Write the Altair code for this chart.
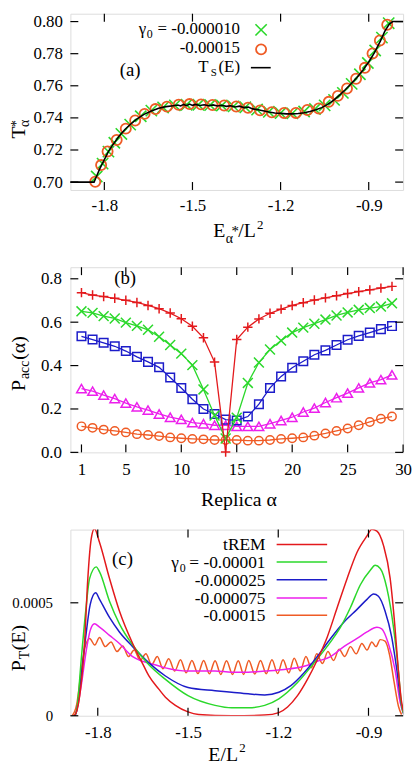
import altair as alt
import pandas as pd

FONT = "Liberation Serif, Times New Roman, serif"
RED, GREEN, BLUE, MAGENTA, ORANGE = "#e3191c", "#2bd82b", "#1c1cc9", "#ec1fec", "#ef5b25"
XPATH = "M-1,-1L1,1M-1,1L1,-1"
PLUSPATH = "M-1,0L1,0M0,-1L0,1"

W = 336
HA, HB, HC = 178, 187, 188
TL = 8

# ---------------- panel (a) data ----------------
a_xticks = [-1.8, -1.5, -1.2, -0.9]
a_yticks = [0.70, 0.72, 0.74, 0.76, 0.78, 0.80]
a_circ_E = [-1.831, -1.811, -1.789, -1.758, -1.727, -1.695, -1.663, -1.626, -1.587, -1.547,
            -1.510, -1.471, -1.432, -1.392, -1.351, -1.311, -1.270, -1.230, -1.188, -1.148,
            -1.109, -1.070, -1.036, -1.005, -0.974, -0.943, -0.913, -0.887, -0.862, -0.837]
a_circ_T = [0.7002, 0.7106, 0.7191, 0.7262, 0.7333, 0.7384, 0.7425, 0.7455, 0.7470, 0.7482,
            0.7486, 0.7484, 0.7480, 0.7477, 0.7471, 0.7463, 0.7447, 0.7435, 0.7431, 0.7431,
            0.7449, 0.7459, 0.7500, 0.7537, 0.7583, 0.7644, 0.7712, 0.7801, 0.7882, 0.7980]
a_x_E = [-1.826, -1.806, -1.786, -1.766, -1.742, -1.712, -1.676, -1.640, -1.600, -1.560,
         -1.520, -1.480, -1.440, -1.400, -1.360, -1.320, -1.280, -1.240, -1.200, -1.160,
         -1.120, -1.083, -1.050, -1.018, -0.988, -0.958, -0.930, -0.903, -0.878, -0.855, -0.832]
a_x_T = [0.7035, 0.7115, 0.7190, 0.7245, 0.7300, 0.7358, 0.7410, 0.7445, 0.7465, 0.7478,
         0.7482, 0.7482, 0.7480, 0.7477, 0.7472, 0.7466, 0.7452, 0.7438, 0.7430, 0.7428,
         0.7440, 0.7455, 0.7478, 0.7512, 0.7556, 0.7612, 0.7672, 0.7742, 0.7820, 0.7900, 0.7990]
a_line_E = [-1.920, -1.835, -1.828, -1.815, -1.800, -1.785, -1.770, -1.750, -1.730, -1.710,
            -1.690, -1.665, -1.640, -1.615, -1.590, -1.565, -1.550, -1.540, -1.530, -1.520,
            -1.510, -1.500, -1.490, -1.475, -1.460, -1.445, -1.430, -1.415, -1.400, -1.385,
            -1.370, -1.355, -1.340, -1.325, -1.310, -1.295, -1.280, -1.260, -1.240, -1.220,
            -1.200, -1.180, -1.160, -1.140, -1.120, -1.100, -1.080, -1.060, -1.040, -1.020,
            -1.000, -0.980, -0.960, -0.940, -0.920, -0.900, -0.880, -0.860, -0.845, -0.830,
            -0.818, -0.810, -0.783]
a_line_T = [0.7000, 0.7000, 0.7030, 0.7085, 0.7140, 0.7195, 0.7235, 0.7285, 0.7328, 0.7362,
            0.7392, 0.7422, 0.7443, 0.7460, 0.7470, 0.7476, 0.7480, 0.7474, 0.7484, 0.7476,
            0.7486, 0.7478, 0.7484, 0.7477, 0.7482, 0.7476, 0.7481, 0.7474, 0.7479, 0.7472,
            0.7476, 0.7468, 0.7473, 0.7464, 0.7467, 0.7456, 0.7452, 0.7445, 0.7437, 0.7431,
            0.7428, 0.7425, 0.7425, 0.7427, 0.7432, 0.7440, 0.7450, 0.7464, 0.7484, 0.7509,
            0.7540, 0.7575, 0.7613, 0.7652, 0.7697, 0.7748, 0.7808, 0.7880, 0.7940, 0.7985,
            0.8000, 0.8000, 0.8000]

# ---------------- panel (b) data ----------------
b_xticks = [1, 5, 10, 15, 20, 25, 30]
b_yticks = [0.0, 0.2, 0.4, 0.6, 0.8]
replica = list(range(1, 30))
b_red = [0.736, 0.725, 0.718, 0.710, 0.701, 0.691, 0.677, 0.662, 0.642, 0.616, 0.581, 0.528, 0.416, 0.002,
         0.520, 0.577, 0.615, 0.641, 0.660, 0.677, 0.690, 0.702, 0.712, 0.722, 0.732, 0.741, 0.749, 0.757, 0.765]
b_green = [0.650, 0.643, 0.628, 0.617, 0.598, 0.583, 0.565, 0.533, 0.495, 0.455, 0.402, 0.290, 0.170, 0.064,
           0.160, 0.320, 0.414, 0.474, 0.515, 0.552, 0.575, 0.593, 0.612, 0.631, 0.645, 0.657, 0.665, 0.672, 0.687]
b_blue = [0.535, 0.520, 0.505, 0.489, 0.467, 0.440, 0.417, 0.392, 0.345, 0.297, 0.245, 0.200, 0.177, 0.151,
          0.147, 0.165, 0.222, 0.297, 0.350, 0.390, 0.420, 0.450, 0.470, 0.495, 0.519, 0.537, 0.552, 0.568, 0.582]
b_magenta = [0.294, 0.282, 0.264, 0.248, 0.227, 0.210, 0.195, 0.177, 0.162, 0.152, 0.137, 0.132, 0.125, 0.125,
             0.120, 0.120, 0.120, 0.132, 0.147, 0.162, 0.186, 0.204, 0.230, 0.252, 0.273, 0.297, 0.320, 0.335, 0.357]
b_orange = [0.120, 0.113, 0.105, 0.099, 0.092, 0.084, 0.080, 0.075, 0.069, 0.065, 0.062, 0.060, 0.057, 0.057,
            0.057, 0.054, 0.054, 0.057, 0.062, 0.065, 0.069, 0.077, 0.087, 0.099, 0.110, 0.125, 0.140, 0.155, 0.165]

# ---------------- panel (c) data (P in units of 1e-4) ----------------
c_xticks = [-1.8, -1.5, -1.2, -0.9]
c_yticks = [0, 5]
c_red_E = [-1.880, -1.876, -1.860, -1.844, -1.833, -1.822, -1.811, -1.794, -1.761, -1.728, -1.684, -1.651,
           -1.630, -1.597, -1.575, -1.542, -1.500, -1.465, -1.355, -1.245, -1.198, -1.169, -1.136, -1.103,
           -1.070, -1.037, -1.004, -0.971, -0.938, -0.905, -0.889, -0.872, -0.850, -0.828, -0.812, -0.801,
           -0.790, -0.782]
c_red_P = [0.0, 0.03, 0.89, 3.20, 6.08, 7.81, 8.28, 7.67, 6.08, 4.64, 3.20, 2.31,
           1.76, 1.18, 0.82, 0.46, 0.17, 0.06, 0.0, 0.03, 0.14, 0.39, 0.89, 1.61,
           2.48, 3.49, 4.79, 6.08, 7.24, 7.96, 8.25, 8.17, 7.53, 6.08, 3.92, 2.05,
           0.61, 0.10]
c_green_E = [-1.876, -1.869, -1.855, -1.840, -1.827, -1.805, -1.794, -1.761, -1.728, -1.684, -1.630, -1.575,
             -1.500, -1.410, -1.355, -1.300, -1.245, -1.198, -1.136, -1.081, -1.026, -0.993, -0.960, -0.927,
             -0.894, -0.878, -0.861, -0.839, -0.817, -0.801, -0.790, -0.782]
c_green_P = [0.0, 0.32, 2.48, 4.64, 6.08, 6.59, 6.37, 5.07, 4.07, 3.13, 2.26, 1.61,
             0.89, 0.46, 0.35, 0.35, 0.46, 0.75, 1.47, 2.34, 3.27, 3.92, 4.79, 5.80,
             6.44, 6.66, 6.52, 5.65, 3.92, 2.05, 0.46, 0.05]
c_blue_E = [-1.876, -1.871, -1.855, -1.840, -1.825, -1.807, -1.794, -1.761, -1.728, -1.684, -1.630, -1.575,
            -1.500, -1.410, -1.355, -1.300, -1.245, -1.198, -1.158, -1.114, -1.070, -1.026, -0.982, -0.938,
            -0.905, -0.883, -0.867, -0.845, -0.823, -0.806, -0.790, -0.782]
c_blue_P = [0.0, 0.17, 1.76, 3.49, 4.93, 5.44, 5.15, 4.35, 3.71, 3.06, 2.34, 1.76,
            1.25, 1.11, 1.04, 0.97, 0.92, 1.04, 1.33, 1.90, 2.62, 3.42, 4.14, 4.71,
            5.15, 5.39, 5.29, 4.64, 3.49, 2.05, 0.46, 0.05]
c_mag_E = [-1.876, -1.871, -1.855, -1.838, -1.825, -1.811, -1.794, -1.761, -1.728, -1.684, -1.651, -1.610,
           -1.575, -1.500, -1.410, -1.355, -1.300, -1.245, -1.180, -1.114, -1.070, -1.026, -0.982, -0.938,
           -0.905, -0.872, -0.856, -0.834, -0.812, -0.795, -0.784]
c_mag_P = [0.0, 0.17, 1.33, 2.91, 3.78, 4.07, 3.92, 3.56, 3.20, 2.62, 2.41, 2.26,
           2.12, 1.98, 1.98, 1.93, 1.93, 1.98, 2.05, 2.19, 2.41, 2.62, 3.06, 3.42,
           3.71, 3.92, 3.85, 3.20, 2.05, 0.61, 0.10]
c_or_E = [-1.885, -1.870, -1.855, -1.843, -1.827, -1.810, -1.794, -1.775, -1.756, -1.736,
          -1.717, -1.698, -1.679, -1.659, -1.640, -1.621, -1.602, -1.583, -1.564, -1.544,
          -1.525, -1.506, -1.487, -1.467, -1.448, -1.429, -1.410, -1.391, -1.372, -1.352,
          -1.333, -1.315, -1.298, -1.278, -1.259, -1.240, -1.221, -1.202, -1.184, -1.165,
          -1.147, -1.127, -1.108, -1.090, -1.072, -1.053, -1.035, -1.016, -0.998, -0.979,
          -0.960, -0.941, -0.922, -0.905, -0.889, -0.875, -0.861, -0.845, -0.830, -0.815,
          -0.800, -0.790]
c_or_P = [0.0, 0.5, 2.0, 3.0, 3.42, 3.13, 3.46, 3.06, 3.27, 2.84,
          3.09, 2.62, 2.91, 2.45, 2.74, 2.26, 2.62, 2.08, 2.52, 1.98,
          2.48, 1.90, 2.45, 1.87, 2.45, 1.86, 2.44, 1.83, 2.44, 1.83,
          2.44, 1.83, 2.45, 1.85, 2.45, 1.86, 2.48, 1.87, 2.48, 1.90,
          2.55, 1.98, 2.62, 2.12, 2.74, 2.31, 2.84, 2.45, 2.94, 2.62,
          3.06, 2.74, 3.20, 2.91, 3.27, 3.06, 3.37, 3.30, 2.70, 1.50,
          0.40, 0.05]


def one():
    return alt.Data(values=[{}])


def txt(s, x, y, size=18, align="left", angle=0, baseline="alphabetic"):
    return alt.Chart(one()).mark_text(
        text=s, font=FONT, fontSize=size, align=align, baseline=baseline,
        angle=angle, color="black"
    ).encode(x=alt.value(x), y=alt.value(y))


def mk_axis(values, expr, pad=8, size=17):
    return alt.Axis(values=values, ticks=False, domain=False, grid=False, labelFont=FONT,
                    labelFontSize=size, labelColor="black", labelPadding=pad, labelExpr=expr,
                    labelFlush=False, labelOverlap=False, title="")


def frame_ticks(xvals, yvals, X, Y, H):
    xd = pd.DataFrame({"tx": xvals})
    yd = pd.DataFrame({"ty": yvals})
    st = dict(color="black", strokeWidth=1.2)
    XX = X("tx")
    YY = Y("ty")
    return [
        alt.Chart(xd).mark_rule(**st).encode(x=XX, y=alt.value(H), y2=alt.value(H - TL)),
        alt.Chart(xd).mark_rule(**st).encode(x=XX, y=alt.value(0), y2=alt.value(TL)),
        alt.Chart(yd).mark_rule(**st).encode(y=YY, x=alt.value(0), x2=alt.value(TL)),
        alt.Chart(yd).mark_rule(**st).encode(y=YY, x=alt.value(W), x2=alt.value(W - TL)),
    ]


# ================= panel (a) =================
xsc_a = alt.Scale(domain=[-1.9156, -0.783], nice=False, zero=False)
ysc_a = alt.Scale(domain=[0.6951, 0.8049], nice=False, zero=False)
xax_a = mk_axis(a_xticks, "'-' + format(-datum.value, '.1f')", pad=8)
yax_a = mk_axis(a_yticks, "format(datum.value, '.2f')", pad=8)


def XA(f):
    return alt.X(f + ":Q", scale=xsc_a, axis=xax_a)


def YA(f):
    return alt.Y(f + ":Q", scale=ysc_a, axis=yax_a)


a_line = alt.Chart(pd.DataFrame({"E": a_line_E, "T": a_line_T})).mark_line(
    color="black", strokeWidth=1.6, clip=True
).encode(x=XA("E"), y=YA("T"))
a_green = alt.Chart(pd.DataFrame({"E": a_x_E, "T": a_x_T})).mark_point(
    shape=XPATH, filled=False, size=130, strokeWidth=1.6, color=GREEN, opacity=1
).encode(x=XA("E"), y=YA("T"))
a_orange = alt.Chart(pd.DataFrame({"E": a_circ_E, "T": a_circ_T})).mark_point(
    shape="circle", filled=False, size=105, strokeWidth=1.8, color=ORANGE, opacity=1
).encode(x=XA("E"), y=YA("T"))

a_leg = [
    txt("γ", 69.0, 20.7, 17), txt("0", 77.0, 24.5, 12), txt("= -0.000010", 171.3, 20.7, 17, align="right"),
    txt("-0.00015", 171.3, 39.7, 17, align="right"),
    txt("(E)", 171.3, 58.7, 17, align="right"), txt("S", 147.8, 62.8, 11, align="right"),
    txt("T", 139.5, 58.7, 17, align="right"),
    alt.Chart(one()).mark_point(shape=XPATH, filled=False, size=130, strokeWidth=1.6, color=GREEN, opacity=1)
    .encode(x=alt.value(192.6), y=alt.value(16.3)),
    alt.Chart(one()).mark_point(shape="circle", filled=False, size=105, strokeWidth=1.8, color=ORANGE, opacity=1)
    .encode(x=alt.value(192.6), y=alt.value(36)),
    alt.Chart(one()).mark_rule(color="black", strokeWidth=1.6)
    .encode(x=alt.value(182.3), x2=alt.value(202.3), y=alt.value(54.5)),
]
a_titles = [
    txt("(a)", 60.3, 63, 19, align="center"),
    txt("T", -46, 126, 20, angle=270), txt("α", -42, 114.5, 14, angle=270), txt("*", -50, 114.5, 14, angle=270),
    txt("E", 144.3, HA + 48, 20), txt("α", 156.8, HA + 54, 14), txt("*", 162.8, HA + 46, 15),
    txt("/L", 169.5, HA + 48, 20), txt("2", 188.5, HA + 39, 13),
    alt.Chart(one()).mark_rule(opacity=0).encode(x=alt.value(-62.2), y=alt.value(0), y2=alt.value(1)),
]
pa = alt.layer(
    a_green, a_orange, a_line,
    *frame_ticks(a_xticks, a_yticks, XA, YA, HA), *a_leg, *a_titles
).properties(width=W, height=HA)

# ================= panel (b) =================
xsc_b = alt.Scale(domain=[0, 30], nice=False, zero=False)
ysc_b = alt.Scale(domain=[0, 0.8534], nice=False, zero=False)
xax_b = mk_axis(b_xticks, "format(datum.value, 'd')", pad=9)
yax_b = mk_axis(b_yticks, "format(datum.value, '.1f')", pad=9)


def XB(f):
    return alt.X(f + ":Q", scale=xsc_b, axis=xax_b)


def YB(f):
    return alt.Y(f + ":Q", scale=ysc_b, axis=yax_b)


def b_series(vals, color, shape, size):
    df = pd.DataFrame({"a": replica, "p": vals})
    line = alt.Chart(df).mark_line(color=color, strokeWidth=1.3).encode(x=XB("a"), y=YB("p"))
    pts = alt.Chart(df).mark_point(shape=shape, filled=False, size=size, strokeWidth=1.5,
                                   color=color, opacity=1).encode(x=XB("a"), y=YB("p"))
    return [line, pts]


pb = alt.layer(
    *b_series(b_orange, ORANGE, "circle", 72),
    *b_series(b_magenta, MAGENTA, "triangle-up", 95),
    *b_series(b_blue, BLUE, "square", 75),
    *b_series(b_green, GREEN, XPATH, 100),
    *b_series(b_red, RED, PLUSPATH, 90),
    *frame_ticks(b_xticks, b_yticks, XB, YB, HB),
    txt("(b)", 55.3, 17, 19, align="center"),
    txt("P", -46, 125, 20, angle=270), txt("acc", -42, 113.0, 14, angle=270),
    txt("(α)", -46, 93.5, 20, angle=270),
    txt("Replica α", 170.3, HB + 54, 20, align="center"),
).properties(width=W, height=HB)

# ================= panel (c) =================
xsc_c = alt.Scale(domain=[-1.891, -0.785], nice=False, zero=False)
ysc_c = alt.Scale(domain=[0, 8.24], nice=False, zero=False)
xax_c = mk_axis(c_xticks, "'-' + format(-datum.value, '.1f')", pad=9)
yax_c = mk_axis(c_yticks, "datum.value == 0 ? '0' : '0.0005'", pad=18, size=15)


def XC(f):
    return alt.X(f + ":Q", scale=xsc_c, axis=xax_c)


def YC(f):
    return alt.Y(f + ":Q", scale=ysc_c, axis=yax_c)


def c_series(E, P, color):
    df = pd.DataFrame({"E": E, "P": P})
    return alt.Chart(df).mark_line(color=color, strokeWidth=1.5, clip=True,
                                   interpolate="monotone").encode(x=XC("E"), y=YC("P"))


c_leg_y = [15, 32.6, 50.6, 69, 86.6]
c_leg_col = [RED, GREEN, BLUE, MAGENTA, ORANGE]
c_leg = []
for yy, cc in zip(c_leg_y, c_leg_col):
    c_leg.append(alt.Chart(one()).mark_rule(color=cc, strokeWidth=1.5)
                 .encode(x=alt.value(208.3), x2=alt.value(259.3), y=alt.value(yy)))
c_leg += [
    txt("tREM", 197, 21, 17.5, align="right"),
    txt("= -0.00001", 197, 38.6, 17.5, align="right"),
    txt("0", 116.5, 42.4, 12, align="right"), txt("γ", 109.5, 38.6, 17.5, align="right"),
    txt("-0.000025", 197, 56.6, 17.5, align="right"),
    txt("-0.000075", 197, 75, 17.5, align="right"),
    txt("-0.00015", 197, 92.6, 17.5, align="right"),
]

pc = alt.layer(
    c_series(c_or_E, c_or_P, ORANGE),
    c_series(c_mag_E, c_mag_P, MAGENTA),
    c_series(c_blue_E, c_blue_P, BLUE),
    c_series(c_green_E, c_green_P, GREEN),
    c_series(c_red_E, c_red_P, RED),
    *frame_ticks(c_xticks, c_yticks, XC, YC, HC),
    *c_leg,
    txt("(c)", 52.6, 35.3, 19, align="center"),
    txt("P", -46, 143, 20, angle=270), txt("T", -42, 131.0, 14, angle=270),
    txt("(E)", -46, 121.8, 20, angle=270),
    txt("E/L", 139.3, HC + 45.4, 20), txt("2", 170.5, HC + 37, 13),
).properties(width=W, height=HC)

chart = alt.vconcat(pa, pb, pc, spacing=78, bounds="flush", padding=0).configure_view(
    stroke="black", strokeWidth=1.5
).configure(background="white")

chart.save("out.html", embed_options={"renderer": "svg", "actions": False})
